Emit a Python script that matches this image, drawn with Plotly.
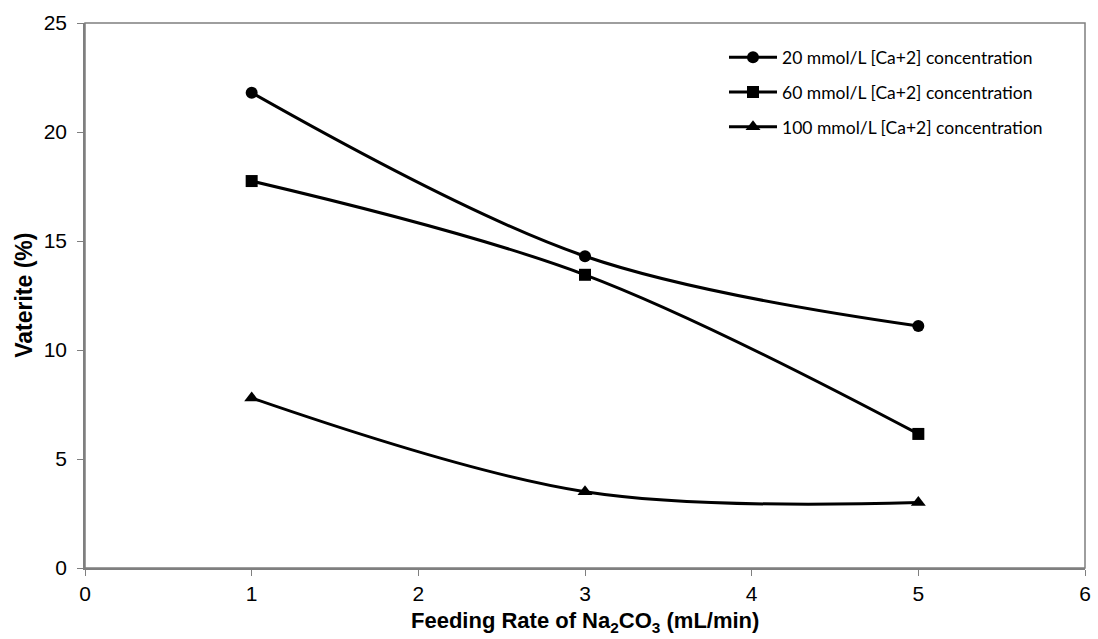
import plotly.graph_objects as go

feed_rate = [1, 3, 5]
ca20 = [21.8, 14.3, 11.1]
ca60 = [17.75, 13.45, 6.15]
ca100 = [7.8, 3.5, 3.0]
names = ["20 mmol/L [Ca+2] concentration",
         "60 mmol/L [Ca+2] concentration",
         "100 mmol/L [Ca+2] concentration"]
symbols = ["circle", "square", "triangle-up"]
x_ticks = [0, 1, 2, 3, 4, 5, 6]
y_ticks = [0, 5, 10, 15, 20, 25]

AX_FONT = "Liberation Sans, Arial, sans-serif"

fig = go.Figure()
for i, (vals, nm, sym) in enumerate(zip([ca20, ca60, ca100], names, symbols)):
    fig.add_trace(go.Scatter(
        x=feed_rate, y=vals, name=nm, mode="lines+markers",
        legendgroup=f"g{i}",
        line=dict(color="black", width=3, shape="spline", smoothing=1.0),
        marker=dict(symbol=sym, size=12 if sym != "triangle-up" else 13, color="black"),
    ))

fig.update_layout(
    width=1098, height=639,
    margin=dict(l=85, r=7, t=23, b=71),
    paper_bgcolor="white", plot_bgcolor="white",
    showlegend=True,
    legend=dict(x=0.639, y=0.97, xanchor="left", yanchor="top",
                font=dict(family="Lato, Open Sans, sans-serif", size=17.5, color="black"),
                bgcolor="rgba(0,0,0,0)", itemwidth=48, tracegroupgap=9),
    xaxis=dict(range=[0, 6], tickvals=x_ticks, ticks="outside", ticklen=6,
               tickcolor="#7f7f7f", showline=True, linecolor="#7f7f7f", linewidth=1.5,
               mirror=False, showgrid=False, zeroline=False,
               tickfont=dict(family=AX_FONT, size=21, color="black")),
    yaxis=dict(range=[0, 25], tickvals=y_ticks, ticks="outside", ticklen=6,
               tickcolor="#7f7f7f", showline=True, linecolor="#7f7f7f", linewidth=1.5,
               showgrid=False, zeroline=False, ticklabelstandoff=6,
               tickfont=dict(family=AX_FONT, size=21, color="black")),
    annotations=[
        dict(text="<b>Feeding Rate of Na<sub>2</sub>CO<sub>3</sub> (mL/min)</b>",
             xref="paper", yref="paper", x=0.5, y=-54 / 545,
             xanchor="center", yanchor="middle", showarrow=False,
             font=dict(family=AX_FONT, size=22, color="black")),
        dict(text="<b>Vaterite (%)</b>", textangle=-90,
             xref="paper", yref="paper", x=-62 / 1006, y=0.5,
             xanchor="center", yanchor="middle", showarrow=False,
             font=dict(family=AX_FONT, size=23, color="black")),
    ],
)
# plot-area box (top and right borders)
fig.add_shape(type="rect", xref="paper", yref="paper", x0=0, y0=0, x1=1, y1=1,
              line=dict(color="#7f7f7f", width=1.5), layer="below")

fig.write_html("out.html")
